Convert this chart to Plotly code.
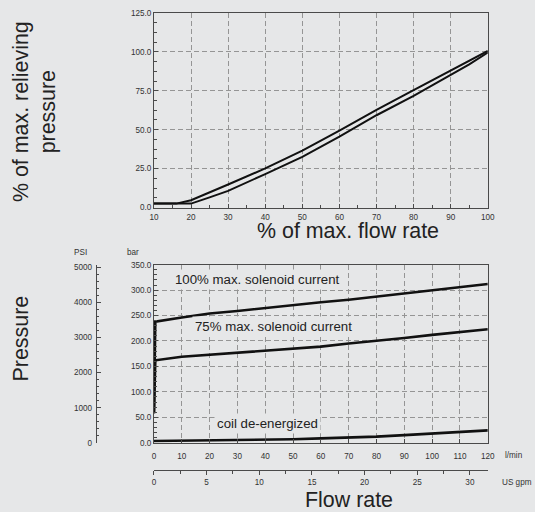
import plotly.graph_objects as go

# ---- Top chart data (% of max. flow rate vs % of max. relieving pressure)
top_flow_upper = [10, 16, 20, 25, 30, 40, 50, 60, 70, 80, 90, 95, 100]
top_press_upper = [2.5, 2.5, 4.7, 9.5, 14.8, 25.1, 36.5, 49.4, 62.7, 75.4, 88.2, 94.5, 100.6]
top_flow_lower = [10, 20, 25, 30, 40, 50, 60, 70, 80, 90, 95, 100]
top_press_lower = [2.5, 2.5, 6.5, 10.7, 21.5, 32.6, 45.5, 59.3, 71.7, 85.0, 92.0, 99.6]

# ---- Bottom chart data (flow l/min vs pressure bar)
flow_lpm = [0, 0.5, 10, 20, 30, 40, 50, 60, 70, 80, 90, 100, 110, 120]
p_100 = [58, 238, 246, 254, 259, 265, 270, 276, 281, 287, 293, 300, 306, 312]
p_75 = [58, 162, 169, 173, 177, 181, 185, 189, 195, 200, 206, 212, 217, 223]
coil_lpm = [0, 10, 20, 30, 40, 50, 60, 70, 80, 90, 100, 110, 120]
p_coil = [3.5, 4.0, 4.5, 5.3, 6.0, 7.0, 8.6, 10.0, 12.0, 15.0, 18.0, 21.0, 24.4]

labels = ["100% max. solenoid current", "75% max. solenoid current", "coil de-energized"]
label_x = [37.3, 43.0, 40.7]
label_y = [320, 229, 38.8]

BAR_TO_PSI = 14.5038
LPM_TO_GPM = 1 / 3.78541

BG = "#e6e7e8"
GRID = "#959595"
GDASH = "5px,3px"
AX = "#4a4a4a"
TXT = "#333333"
FONT = "Liberation Sans, Arial, sans-serif"

fig = go.Figure()
fig.add_trace(go.Scatter(x=top_flow_upper, y=top_press_upper, mode="lines",
                         line=dict(color="#111", width=2), xaxis="x", yaxis="y", hoverinfo="skip"))
fig.add_trace(go.Scatter(x=top_flow_lower, y=top_press_lower, mode="lines",
                         line=dict(color="#111", width=2), xaxis="x", yaxis="y", hoverinfo="skip"))
fig.add_trace(go.Scatter(x=flow_lpm, y=p_100, mode="lines",
                         line=dict(color="#111", width=2.6), xaxis="x2", yaxis="y2", hoverinfo="skip"))
fig.add_trace(go.Scatter(x=flow_lpm, y=p_75, mode="lines",
                         line=dict(color="#111", width=2.6), xaxis="x2", yaxis="y2", hoverinfo="skip"))
fig.add_trace(go.Scatter(x=coil_lpm, y=p_coil, mode="lines",
                         line=dict(color="#111", width=2.6), xaxis="x2", yaxis="y2", hoverinfo="skip"))
# invisible helpers so the secondary unit axes are rendered
fig.add_trace(go.Scatter(x=[0, 120 * LPM_TO_GPM], y=[0, 0], mode="lines", line=dict(width=0),
                         xaxis="x3", yaxis="y2", hoverinfo="skip", showlegend=False))
fig.add_trace(go.Scatter(x=[0, 0], y=[0, 350 * BAR_TO_PSI], mode="lines", line=dict(width=0),
                         xaxis="x2", yaxis="y3", hoverinfo="skip", showlegend=False))

W, H = 535, 512
S, OFF = 0.98, 4.0   # observed capture scaling: shown = OFF + S * layout_px


def inv(t):
    return (t - OFF) / S


def px(x):
    return inv(x) / W


def py(y):
    return 1 - inv(y) / H


def fs(s):
    return s / S


tf = dict(size=fs(8), color=TXT, family=FONT)
common = dict(showline=True, linecolor=AX, linewidth=1, zeroline=False, tickfont=tf,
              ticks="inside", ticklen=4, tickcolor=AX)
grid = dict(showgrid=True, gridcolor=GRID, griddash=GDASH, gridwidth=1, mirror=True)

fig.update_layout(
    width=W, height=H, margin=dict(l=0, r=0, t=0, b=0), autosize=False,
    paper_bgcolor=BG, plot_bgcolor=BG, showlegend=False,
    font=dict(family=FONT, color=TXT),
    xaxis=dict(domain=[px(153.3), px(488)], range=[10, 100], anchor="y", tick0=10, dtick=10,
               ticklabelstandoff=2,
               minor=dict(dtick=5, ticks="inside", ticklen=3, tickcolor=AX, showgrid=False),
               **grid, **common),
    yaxis=dict(domain=[py(207), py(13)], range=[0, 125], anchor="x", dtick=25, tickformat=".1f",
               minor=dict(dtick=6.25, ticks="inside", ticklen=3, tickcolor=AX, showgrid=False),
               **grid, **common),
    xaxis2=dict(domain=[px(153.3), px(488)], range=[0, 120], anchor="y2", dtick=10,
                ticklabelstandoff=5,
                **grid, **common),
    yaxis2=dict(domain=[py(441.7), py(264)], range=[0, 350], anchor="x2", dtick=50, tickformat=".1f",
                minor=dict(dtick=10, ticks="inside", ticklen=3, tickcolor=AX, showgrid=False),
                **grid, **common),
    yaxis3=dict(overlaying="y2", anchor="free", position=px(95), side="left",
                range=[0, 350 * BAR_TO_PSI], dtick=1000, showgrid=False,
                showline=True, linecolor=AX, linewidth=1, zeroline=False, tickfont=tf,
                ticks="inside", ticklen=4, tickcolor=AX, ticklabelstandoff=2,
                minor=dict(dtick=200, ticks="inside", ticklen=2.5, tickcolor=AX, showgrid=False)),
    xaxis3=dict(overlaying="x2", anchor="free", position=py(469), side="bottom",
                range=[0, 120 * LPM_TO_GPM], dtick=5, showgrid=False,
                showline=True, linecolor=AX, linewidth=1, zeroline=False, tickfont=tf,
                ticks="outside", ticklen=4, tickcolor=AX,
                minor=dict(dtick=2.5, ticks="outside", ticklen=3, tickcolor=AX, showgrid=False)),
)

ann = []
for t, x, y in zip(labels, label_x, label_y):
    ann.append(dict(text=t, x=x, y=y, xref="x2", yref="y2", showarrow=False,
                    xanchor="center", yanchor="middle",
                    font=dict(size=fs(13), color="#222", family=FONT), bgcolor=BG, borderpad=2))


def pa(text, x, y, size, angle=0, xanchor="center"):
    return dict(text=text, x=px(x), y=py(y), xref="paper", yref="paper", showarrow=False,
                xanchor=xanchor, yanchor="middle", textangle=angle, align="center",
                borderpad=0,
                font=dict(size=fs(size), color="#222" if size > 10 else TXT, family=FONT))


ann += [
    pa("% of max. flow rate", 348, 230.5, 21),
    dict(text="Flow rate", x=px(348.5), y=1 - 505 / H, xref="paper", yref="paper",
         showarrow=False, xanchor="center", yanchor="middle", borderpad=0,
         font=dict(size=fs(21), color="#222", family=FONT)),
    pa("% of max. relieving<br>pressure", 33.4, 111.5, 21, -90),
    pa("Pressure", 19.7, 338, 21, -90),
    pa("PSI", 80, 252, 8),
    pa("bar", 132, 252, 8),
    pa("l/min", 513.5, 454, 8),
    pa("US gpm", 533, 481, 8, xanchor="right"),
]
fig.update_layout(annotations=ann)

fig.write_html("out.html", config={"displayModeBar": False, "responsive": False},
               post_script="document.documentElement.style.margin='0';"
                           "document.body.style.margin='0';document.body.style.padding='0';"
                           "document.documentElement.style.overflow='hidden';"
                           "var gd=document.getElementById('{plot_id}');"
                           "gd.style.position='fixed';gd.style.left='0px';gd.style.top='0px';")
